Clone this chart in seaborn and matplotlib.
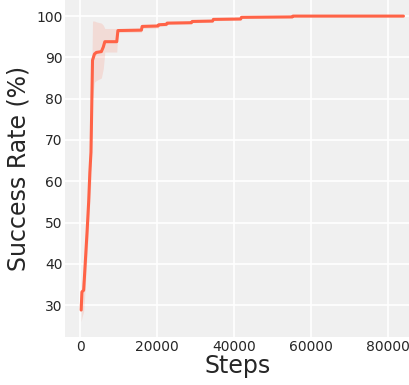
import numpy as np
import pandas as pd
import matplotlib
matplotlib.use("Agg")
import matplotlib.pyplot as plt
import seaborn as sns

# values (mean success rate and its band)
steps = [250, 450, 900, 1300, 1800, 2200, 2500, 2800, 3000, 3200, 3700, 4200,
         5500, 6000, 6400, 9500, 9800, 15900, 16100, 20200, 20400, 22400,
         22600, 28900, 29100, 34400, 34600, 41700, 41900, 55100, 55300, 84000]
success = [28.8, 33.2, 33.6, 40.0, 48.0, 55.0, 62.0, 67.0, 78.0, 89.3, 90.8, 91.2,
           91.4, 92.5, 93.8, 93.8, 96.5, 96.6, 97.5, 97.6, 97.9, 98.0,
           98.3, 98.4, 98.7, 98.8, 99.2, 99.3, 99.7, 99.8, 100.0, 100.0]
lower = [26.0, 27.0, 28.5, 34.0, 42.0, 49.0, 55.0, 60.0, 70.0, 80.0, 84.0, 84.4,
         85.0, 87.3, 91.3, 91.3, 96.0, 96.1, 97.0, 97.1, 97.5, 97.6,
         98.0, 98.1, 98.4, 98.5, 98.9, 99.0, 99.5, 99.6, 100.0, 100.0]
upper = [31.5, 35.5, 38.0, 46.0, 54.0, 61.0, 69.0, 74.0, 86.0, 98.8, 98.8, 98.6,
         98.3, 97.8, 97.0, 97.0, 97.0, 97.1, 98.0, 98.1, 98.3, 98.4,
         98.6, 98.7, 99.0, 99.1, 99.5, 99.6, 99.9, 100.0, 100.0, 100.0]

df = pd.DataFrame({"Steps": steps, "Success": success})
color = "tomato"

sns.set_style("darkgrid", {"axes.facecolor": "#f0f0f0", "grid.color": "white"})
plt.rcParams["font.family"] = ["DejaVu Sans"]

fig = plt.figure(figsize=(4.1, 3.85), dpi=100)
ax = fig.add_axes([0.159, 0.125, 0.841, 0.875])

ax.fill_between(steps, lower, upper, color=color, alpha=0.15, linewidth=0)
sns.lineplot(data=df, x="Steps", y="Success", color=color, linewidth=2.2, ax=ax)

ax.set_xlim(-3900, 85700)
ax.set_ylim(22.3, 103.9)
ax.set_yticks([30, 40, 50, 60, 70, 80, 90, 100])
ax.set_xticks([0, 20000, 40000, 60000, 80000])
ax.tick_params(labelsize=10, length=0, pad=2)
ax.grid(True, color="white", linewidth=1.2)
for s in ax.spines.values():
    s.set_visible(False)

ax.set_xlabel("Steps", fontsize=17, labelpad=0)
ax.set_ylabel("Success Rate (%)", fontsize=17, labelpad=4)

fig.savefig("out.png", dpi=100)
